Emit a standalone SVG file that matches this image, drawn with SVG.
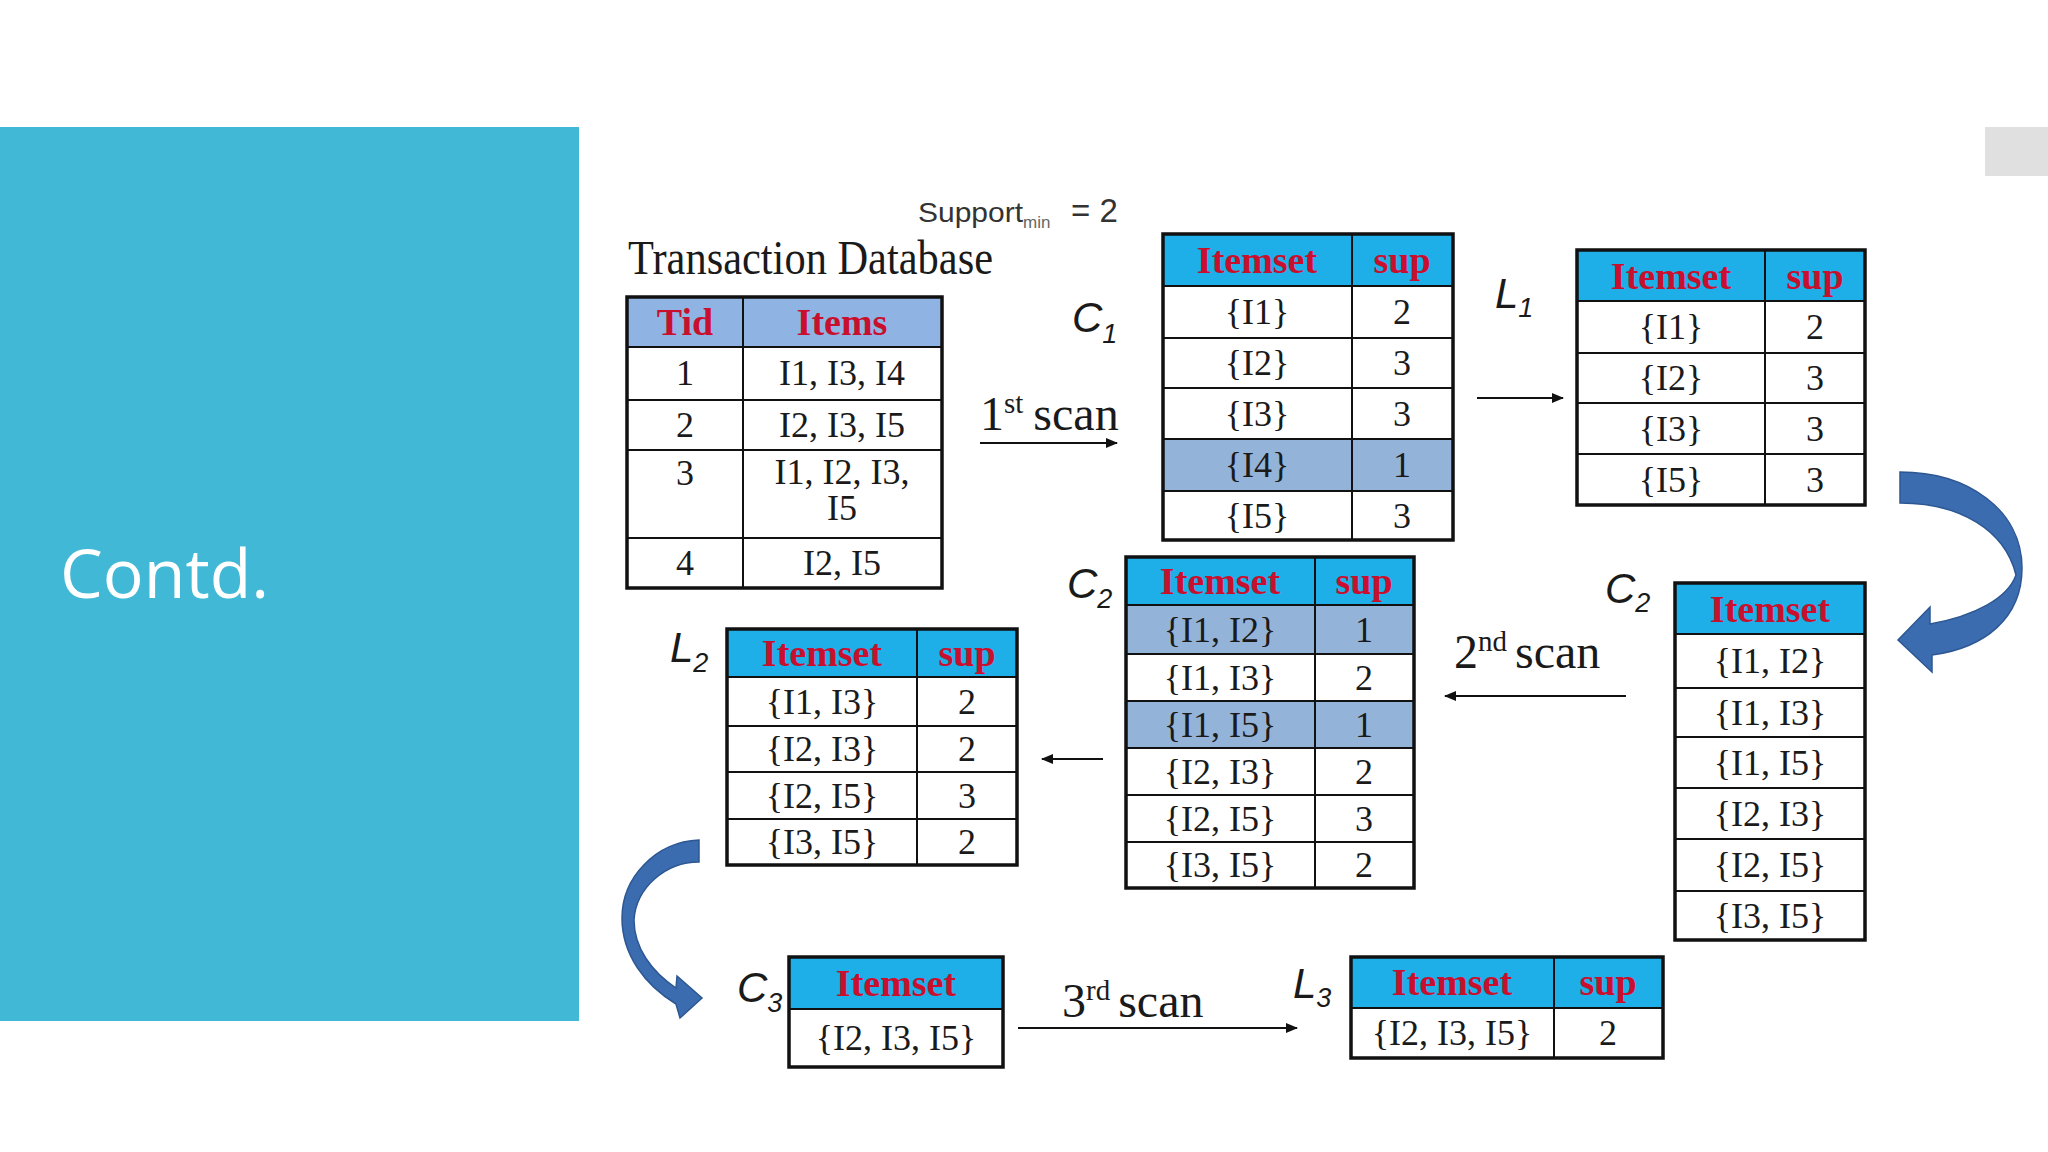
<svg xmlns="http://www.w3.org/2000/svg" width="2048" height="1152" viewBox="0 0 2048 1152">
<defs>
<marker id="ah" markerWidth="12" markerHeight="10" refX="11" refY="5" orient="auto" markerUnits="userSpaceOnUse">
<path d="M0,0 L12,5 L0,10 Z" fill="#111"/>
</marker>
</defs>
<style>
.cell{font-family:"Liberation Serif",serif;font-size:36px;fill:#1a1a1a;text-anchor:middle}
.hdr{font-family:"Liberation Serif",serif;font-weight:bold;font-size:38px;fill:#c8102e;text-anchor:middle}
.grid{stroke:#111;stroke-width:2}
.outer{fill:none;stroke:#111;stroke-width:3.5}
.hfill{fill:#1eaee8}
.tfill{fill:#8fb4e3}
.hl{fill:#94b3d9}
.lab{font-family:"Liberation Sans",sans-serif;font-style:italic;font-size:42px;fill:#1a1a1a}
.sub{font-size:27px}
.scan{font-family:"Liberation Serif",serif;font-size:48px;fill:#1a1a1a}
.conn{stroke:#111;stroke-width:2;fill:none}
.curve{fill:#3c6cb0;stroke:#2c5793;stroke-width:1.5}
</style>
<rect x="0" y="0" width="2048" height="1152" fill="#ffffff"/>
<rect x="0" y="127" width="579" height="894" fill="#41b8d5"/>
<text x="60" y="598" font-family="Open Sans, Liberation Sans, sans-serif" font-size="68" fill="#ffffff">Contd.</text>
<rect x="1985" y="127" width="63" height="49" fill="#e0e0e0"/>

<text x="918" y="222" font-family="Liberation Sans, sans-serif" font-size="28" fill="#333"><tspan textLength="105" lengthAdjust="spacingAndGlyphs">Support</tspan><tspan font-size="17" dy="6" fill="#666">min</tspan></text>
<text x="1071" y="222" font-family="Liberation Sans, sans-serif" font-size="33" fill="#333">= 2</text>
<text x="628" y="274" class="scan" font-size="38" textLength="365" lengthAdjust="spacingAndGlyphs">Transaction Database</text>

<g id="tid-table">
<rect x="627" y="297" width="315" height="50" class="tfill"/>
<line x1="627" y1="347" x2="942" y2="347" class="grid" stroke-width="3"/>
<line x1="627" y1="400" x2="942" y2="400" class="grid"/>
<line x1="627" y1="450" x2="942" y2="450" class="grid"/>
<line x1="627" y1="538" x2="942" y2="538" class="grid"/>
<line x1="743" y1="297" x2="743" y2="588" class="grid" stroke-width="3"/>
<rect x="627" y="297" width="315" height="291" class="outer"/>
<text x="685" y="335" class="hdr">Tid</text>
<text x="842" y="335" class="hdr">Items</text>
<text x="685" y="385" class="cell">1</text><text x="842" y="385" class="cell">I1, I3, I4</text>
<text x="685" y="437" class="cell">2</text><text x="842" y="437" class="cell">I2, I3, I5</text>
<text x="685" y="485" class="cell">3</text><text x="842" y="484" class="cell" font-size="35">I1, I2, I3,</text><text x="842" y="520" class="cell" font-size="35">I5</text>
<text x="685" y="575" class="cell">4</text><text x="842" y="575" class="cell">I2, I5</text>
</g>

<g id="c1">
<text x="1072" y="332" class="lab">C<tspan class="sub" dy="11">1</tspan></text>
<rect x="1163" y="234" width="290" height="52" class="hfill"/>
<rect x="1163" y="439" width="290" height="52" class="hl"/>
<line x1="1163" y1="286" x2="1453" y2="286" class="grid" stroke-width="3"/>
<line x1="1163" y1="338" x2="1453" y2="338" class="grid"/>
<line x1="1163" y1="388" x2="1453" y2="388" class="grid"/>
<line x1="1163" y1="439" x2="1453" y2="439" class="grid"/>
<line x1="1163" y1="491" x2="1453" y2="491" class="grid"/>
<line x1="1352" y1="234" x2="1352" y2="540" class="grid" stroke-width="3"/>
<rect x="1163" y="234" width="290" height="306" class="outer"/>
<text x="1257" y="273" class="hdr">Itemset</text><text x="1402" y="273" class="hdr">sup</text>
<text x="1257" y="324" class="cell">{I1}</text><text x="1402" y="324" class="cell">2</text>
<text x="1257" y="375" class="cell">{I2}</text><text x="1402" y="375" class="cell">3</text>
<text x="1257" y="426" class="cell">{I3}</text><text x="1402" y="426" class="cell">3</text>
<text x="1257" y="477" class="cell">{I4}</text><text x="1402" y="477" class="cell">1</text>
<text x="1257" y="528" class="cell">{I5}</text><text x="1402" y="528" class="cell">3</text>
</g>

<g id="l1">
<text x="1495" y="308" class="lab">L<tspan class="sub" dy="9">1</tspan></text>
<rect x="1577" y="250" width="288" height="51" class="hfill"/>
<line x1="1577" y1="301" x2="1865" y2="301" class="grid" stroke-width="3"/>
<line x1="1577" y1="353" x2="1865" y2="353" class="grid"/>
<line x1="1577" y1="403" x2="1865" y2="403" class="grid"/>
<line x1="1577" y1="454" x2="1865" y2="454" class="grid"/>
<line x1="1765" y1="250" x2="1765" y2="505" class="grid" stroke-width="3"/>
<rect x="1577" y="250" width="288" height="255" class="outer"/>
<text x="1671" y="289" class="hdr">Itemset</text><text x="1815" y="289" class="hdr">sup</text>
<text x="1671" y="339" class="cell">{I1}</text><text x="1815" y="339" class="cell">2</text>
<text x="1671" y="390" class="cell">{I2}</text><text x="1815" y="390" class="cell">3</text>
<text x="1671" y="441" class="cell">{I3}</text><text x="1815" y="441" class="cell">3</text>
<text x="1671" y="492" class="cell">{I5}</text><text x="1815" y="492" class="cell">3</text>
</g>

<g id="c2-candidates">
<text x="1605" y="603" class="lab">C<tspan class="sub" dy="9">2</tspan></text>
<rect x="1675" y="583" width="190" height="51" class="hfill"/>
<line x1="1675" y1="634" x2="1865" y2="634" class="grid" stroke-width="3"/>
<line x1="1675" y1="688" x2="1865" y2="688" class="grid"/>
<line x1="1675" y1="737" x2="1865" y2="737" class="grid"/>
<line x1="1675" y1="788" x2="1865" y2="788" class="grid"/>
<line x1="1675" y1="839" x2="1865" y2="839" class="grid"/>
<line x1="1675" y1="891" x2="1865" y2="891" class="grid"/>
<rect x="1675" y="583" width="190" height="357" class="outer"/>
<text x="1770" y="622" class="hdr">Itemset</text>
<text x="1770" y="673" class="cell">{I1, I2}</text>
<text x="1770" y="725" class="cell">{I1, I3}</text>
<text x="1770" y="775" class="cell">{I1, I5}</text>
<text x="1770" y="826" class="cell">{I2, I3}</text>
<text x="1770" y="877" class="cell">{I2, I5}</text>
<text x="1770" y="928" class="cell">{I3, I5}</text>
</g>

<g id="c2-counted">
<text x="1067" y="598" class="lab">C<tspan class="sub" dy="10">2</tspan></text>
<rect x="1126" y="557" width="288" height="48" class="hfill"/>
<rect x="1126" y="605" width="288" height="49" class="hl"/>
<rect x="1126" y="701" width="288" height="47" class="hl"/>
<line x1="1126" y1="605" x2="1414" y2="605" class="grid" stroke-width="3"/>
<line x1="1126" y1="654" x2="1414" y2="654" class="grid"/>
<line x1="1126" y1="701" x2="1414" y2="701" class="grid"/>
<line x1="1126" y1="748" x2="1414" y2="748" class="grid"/>
<line x1="1126" y1="795" x2="1414" y2="795" class="grid"/>
<line x1="1126" y1="842" x2="1414" y2="842" class="grid"/>
<line x1="1315" y1="557" x2="1315" y2="888" class="grid" stroke-width="3"/>
<rect x="1126" y="557" width="288" height="331" class="outer"/>
<text x="1220" y="594" class="hdr">Itemset</text><text x="1364" y="594" class="hdr">sup</text>
<text x="1220" y="642" class="cell">{I1, I2}</text><text x="1364" y="642" class="cell">1</text>
<text x="1220" y="690" class="cell">{I1, I3}</text><text x="1364" y="690" class="cell">2</text>
<text x="1220" y="737" class="cell">{I1, I5}</text><text x="1364" y="737" class="cell">1</text>
<text x="1220" y="784" class="cell">{I2, I3}</text><text x="1364" y="784" class="cell">2</text>
<text x="1220" y="831" class="cell">{I2, I5}</text><text x="1364" y="831" class="cell">3</text>
<text x="1220" y="877" class="cell">{I3, I5}</text><text x="1364" y="877" class="cell">2</text>
</g>

<g id="l2">
<text x="670" y="662" class="lab">L<tspan class="sub" dy="10">2</tspan></text>
<rect x="727" y="629" width="290" height="48" class="hfill"/>
<line x1="727" y1="677" x2="1017" y2="677" class="grid" stroke-width="3"/>
<line x1="727" y1="726" x2="1017" y2="726" class="grid"/>
<line x1="727" y1="772" x2="1017" y2="772" class="grid"/>
<line x1="727" y1="819" x2="1017" y2="819" class="grid"/>
<line x1="917" y1="629" x2="917" y2="865" class="grid" stroke-width="3"/>
<rect x="727" y="629" width="290" height="236" class="outer"/>
<text x="822" y="666" class="hdr">Itemset</text><text x="967" y="666" class="hdr">sup</text>
<text x="822" y="714" class="cell">{I1, I3}</text><text x="967" y="714" class="cell">2</text>
<text x="822" y="761" class="cell">{I2, I3}</text><text x="967" y="761" class="cell">2</text>
<text x="822" y="808" class="cell">{I2, I5}</text><text x="967" y="808" class="cell">3</text>
<text x="822" y="854" class="cell">{I3, I5}</text><text x="967" y="854" class="cell">2</text>
</g>

<g id="c3">
<text x="737" y="1002" class="lab">C<tspan class="sub" dy="10">3</tspan></text>
<rect x="789" y="957" width="214" height="52" class="hfill"/>
<line x1="789" y1="1009" x2="1003" y2="1009" class="grid" stroke-width="3"/>
<rect x="789" y="957" width="214" height="110" class="outer"/>
<text x="896" y="996" class="hdr">Itemset</text>
<text x="896" y="1050" class="cell">{I2, I3, I5}</text>
</g>

<g id="l3">
<text x="1293" y="998" class="lab">L<tspan class="sub" dy="9">3</tspan></text>
<rect x="1351" y="957" width="312" height="51" class="hfill"/>
<line x1="1351" y1="1008" x2="1663" y2="1008" class="grid" stroke-width="3"/>
<line x1="1554" y1="957" x2="1554" y2="1058" class="grid" stroke-width="3"/>
<rect x="1351" y="957" width="312" height="101" class="outer"/>
<text x="1452" y="995" class="hdr">Itemset</text><text x="1608" y="995" class="hdr">sup</text>
<text x="1452" y="1045" class="cell">{I2, I3, I5}</text><text x="1608" y="1045" class="cell">2</text>
</g>

<g id="connectors">
<line x1="980" y1="443" x2="1117" y2="443" class="conn" marker-end="url(#ah)"/>
<text x="980" y="430" class="scan">1<tspan font-size="29" dy="-17">st</tspan><tspan dy="17" dx="10">scan</tspan></text>
<line x1="1477" y1="398" x2="1563" y2="398" class="conn" marker-end="url(#ah)"/>
<path class="curve" d="M1900,472 C1968,472 2022,510 2022,568 C2022,618 1985,648 1932,655 L1932,672 L1898,640 L1930,607 L1930,624 C1975,616 2008,598 2016,575 C2005,530 1960,503 1900,503 Z"/>
<line x1="1626" y1="696" x2="1445" y2="696" class="conn" marker-end="url(#ah)"/>
<text x="1454" y="668" class="scan">2<tspan font-size="29" dy="-17">nd</tspan><tspan dy="17" dx="8">scan</tspan></text>
<line x1="1103" y1="759" x2="1042" y2="759" class="conn" marker-end="url(#ah)"/>
<path class="curve" d="M699,840 C655,842 622,878 622,918 C622,955 645,985 676,1004 L680,1018 L702,998 L677,976 L676,988 C652,972 634,948 634,920 C636,888 665,862 699,862 Z"/>
<line x1="1018" y1="1028" x2="1297" y2="1028" class="conn" marker-end="url(#ah)"/>
<text x="1062" y="1017" class="scan">3<tspan font-size="29" dy="-17">rd</tspan><tspan dy="17" dx="8">scan</tspan></text>
</g>
</svg>
